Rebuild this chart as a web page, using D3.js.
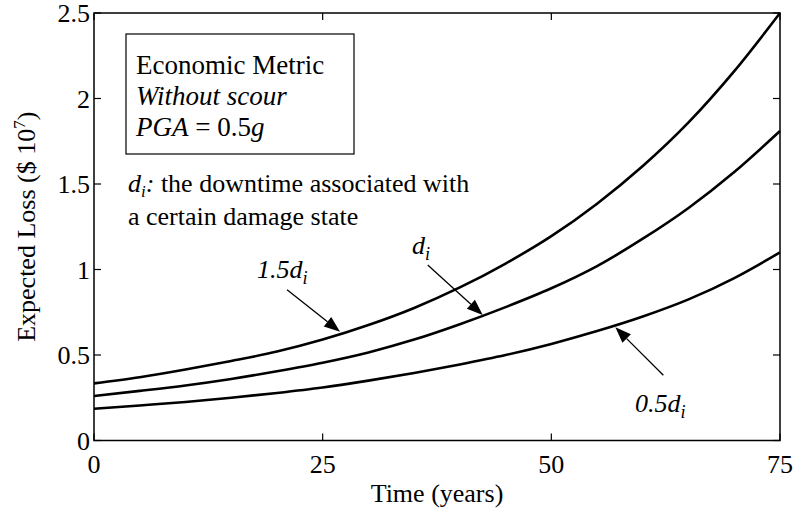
<!DOCTYPE html>
<html><head><meta charset="utf-8">
<script src="https://cdn.jsdelivr.net/npm/d3@7"></script>
<style>
html,body{margin:0;padding:0;background:#fff;}
svg text{font-family:"Liberation Serif","Times New Roman",serif;fill:#000;}
</style></head>
<body><svg id="chart" width="802" height="515"></svg>
<script>
const years   = [0,5,10,15,20,25,30,35,40,45,50,55,60,65,70,75];
const loss15d = [0.334,0.37,0.415,0.465,0.52,0.59,0.675,0.775,0.895,1.035,1.195,1.385,1.605,1.86,2.16,2.5];
const loss10d = [0.26,0.29,0.322,0.36,0.405,0.455,0.515,0.59,0.68,0.78,0.89,1.02,1.18,1.36,1.57,1.81];
const loss05d = [0.186,0.205,0.225,0.25,0.278,0.31,0.35,0.395,0.445,0.5,0.565,0.64,0.725,0.825,0.95,1.1];
const xTicks = [0,25,50,75];
const yTicks = [0,0.5,1,1.5,2,2.5];
const yTickLabels = ["0","0.5","1","1.5","2","2.5"];

const svg = d3.select("#chart");
const L=94,R=780,T=13,B=440.5;
const x = d3.scaleLinear().domain([0,75]).range([L,R]);
const y = d3.scaleLinear().domain([0,2.5]).range([B,T]);
const FS = 26;

// frame
svg.append("rect").attr("x",L).attr("y",T).attr("width",R-L).attr("height",B-T)
  .attr("fill","none").attr("stroke","#000").attr("stroke-width",1.5);

// ticks (inward, mirrored)
const tk=7;
xTicks.forEach(v=>{
  svg.append("line").attr("x1",x(v)).attr("x2",x(v)).attr("y1",B).attr("y2",B-tk).attr("stroke","#000").attr("stroke-width",1.2);
  svg.append("line").attr("x1",x(v)).attr("x2",x(v)).attr("y1",T).attr("y2",T+tk).attr("stroke","#000").attr("stroke-width",1.2);
  svg.append("text").attr("x",x(v)).attr("y",473).attr("text-anchor","middle").attr("font-size",FS).text(v);
});
yTicks.forEach((v,i)=>{
  svg.append("line").attr("x1",L).attr("x2",L+tk).attr("y1",y(v)).attr("y2",y(v)).attr("stroke","#000").attr("stroke-width",1.2);
  svg.append("line").attr("x1",R).attr("x2",R-tk).attr("y1",y(v)).attr("y2",y(v)).attr("stroke","#000").attr("stroke-width",1.2);
  svg.append("text").attr("x",90).attr("y",y(v)+9).attr("text-anchor","end").attr("font-size",FS).text(yTickLabels[i]);
});

// axis titles
svg.append("text").attr("x",(L+R)/2).attr("y",502).attr("text-anchor","middle").attr("font-size",FS).text("Time (years)");
const yt = svg.append("text").attr("transform",`translate(35,${(T+B)/2}) rotate(-90)`).attr("text-anchor","middle").attr("font-size",FS);
yt.append("tspan").text("Expected Loss ($ 10");
yt.append("tspan").attr("font-size",FS*0.65).attr("dy",-10).text("7");
yt.append("tspan").attr("dy",10).text(")");

// curves
const line = d3.line().x((d,i)=>x(years[i])).y(d=>y(d)).curve(d3.curveMonotoneX);
[loss15d,loss10d,loss05d].forEach(s=>{
  svg.append("path").attr("d",line(s)).attr("fill","none").attr("stroke","#000").attr("stroke-width",2.6);
});

// legend box
svg.append("rect").attr("x",126).attr("y",34).attr("width",228).attr("height",120)
  .attr("fill","#fff").attr("stroke","#000").attr("stroke-width",1.2);
const BF = 27;
svg.append("text").attr("x",136).attr("y",74).attr("font-size",BF).text("Economic Metric");
svg.append("text").attr("x",136).attr("y",105).attr("font-size",BF).attr("font-style","italic").text("Without scour");
const pga = svg.append("text").attr("x",136).attr("y",136).attr("font-size",BF);
pga.append("tspan").attr("font-style","italic").text("PGA");
pga.append("tspan").text(" = 0.5");
pga.append("tspan").attr("font-style","italic").text("g");

// d_i note
const n1 = svg.append("text").attr("x",128).attr("y",192).attr("font-size",FS);
n1.append("tspan").attr("font-style","italic").text("d");
n1.append("tspan").attr("font-style","italic").attr("font-size",FS*0.65).attr("dy",5).text("i");
n1.append("tspan").attr("dy",-5).attr("font-style","italic").text(":");
n1.append("tspan").text(" the downtime associated with");
svg.append("text").attr("x",128).attr("y",225).attr("font-size",FS).text("a certain damage state");

// labels with arrows
function label(xx,yy,prefix){
  const t = svg.append("text").attr("x",xx).attr("y",yy).attr("font-size",FS).attr("font-style","italic");
  if(prefix) t.append("tspan").text(prefix);
  t.append("tspan").text("d");
  t.append("tspan").attr("font-size",FS*0.7).attr("dy",6).text("i");
}
label(257,278,"1.5");
label(412,254,"");
label(635,412,"0.5");

function arrow(dxS,dyS,tt,val){
  const tipX = x(tt), tipY = y(val);
  const sx = tipX+dxS, sy = tipY+dyS;
  const ang = Math.atan2(tipY-sy, tipX-sx);
  const len=16, w=6;
  const bx = tipX-len*Math.cos(ang), by = tipY-len*Math.sin(ang);
  svg.append("line").attr("x1",sx).attr("y1",sy).attr("x2",bx).attr("y2",by).attr("stroke","#000").attr("stroke-width",1.3);
  const p=[[tipX,tipY],[bx+w*Math.sin(ang),by-w*Math.cos(ang)],[bx-w*Math.sin(ang),by+w*Math.cos(ang)]];
  svg.append("path").attr("d","M"+p.map(q=>q.join(",")).join("L")+"Z").attr("fill","#000");
}
const arrowYears = [26.9,42.5,57.0];
const arrowVals  = [0.636,0.734,0.662];
arrow(-53,-42,arrowYears[0],arrowVals[0]);
arrow(-55,-50,arrowYears[1],arrowVals[1]);
arrow(48,48,arrowYears[2],arrowVals[2]);
</script></body></html>
